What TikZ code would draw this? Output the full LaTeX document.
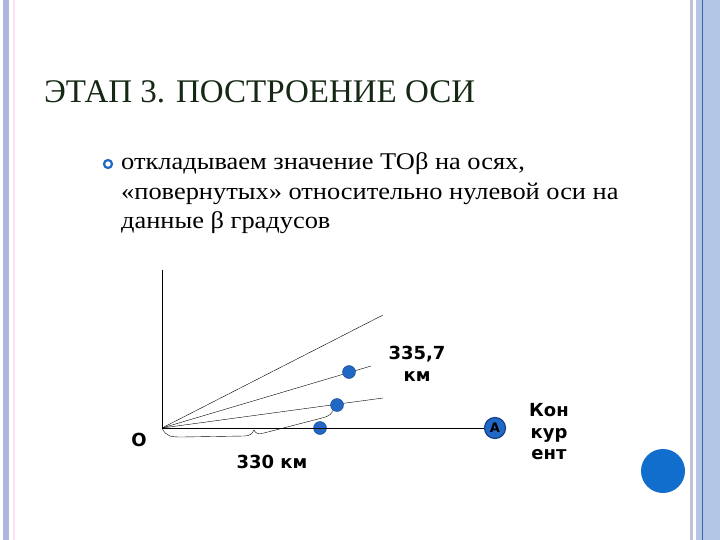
\documentclass[tikz,border=0pt]{standalone}
\usepackage{fontspec}
\setmainfont{Liberation Serif}
\newfontfamily\labelfont{DejaVu Sans}
\newfontfamily\bodyfont[FakeStretch=1.1]{Liberation Serif}
\usetikzlibrary{positioning}

\definecolor{leftband}{RGB}{172,182,222}
\definecolor{pinkline}{RGB}{250,225,245}
\definecolor{grayline}{RGB}{190,196,212}
\definecolor{rightband}{RGB}{180,198,230}
\definecolor{darkline}{RGB}{60,100,170}
\definecolor{titlegreen}{RGB}{20,40,20}
\definecolor{dotblue}{RGB}{32,104,196}
\definecolor{dotedge}{RGB}{22,66,140}
\definecolor{bigblue}{RGB}{18,110,204}

\begin{document}
\begin{tikzpicture}[x=1pt, y=-1pt,
    dot/.style={circle, fill=dotblue, draw=dotedge, inner sep=0pt, minimum size=13pt},
    lbl/.style={font=\labelfont\bfseries\fontsize{18}{21.5}\selectfont, align=center, inner sep=0pt}]
    \useasboundingbox (0,0) rectangle (720,540);

    % cornice della pagina
    \fill[leftband] (2.5,0) rectangle (8.5,540);
    \draw[pinkline, line width=1.5pt] (14,0) -- (14,540);
    \draw[grayline, line width=3pt] (691.5,0) -- (691.5,540);
    \fill[rightband] (696,0) rectangle (720,540);
    \draw[darkline, line width=1pt] (702.2,0) -- (702.2,540);

    % titolo e testo
    \node[anchor=base west, inner sep=0pt, text=titlegreen,
          font=\fontsize{33}{38}\selectfont] (title) at (44,103) {ЭТАП 3. ПОСТРОЕНИЕ ОСИ};
    \draw[dotblue, line width=2.2pt, fill=white] (108,164) circle (4);
    \node[anchor=base west, inner sep=0pt, align=left,
          font=\bodyfont\fontsize{24}{29.5}\selectfont] (body) at (121,229)
        {откладываем значение ТОβ на осях,\\
         «повернутых» относительно нулевой оси на\\
         данные β градусов};

    % assi
    \coordinate (O) at (162,428);
    \coordinate (top) at (162,270);
    \coordinate (r1) at (383,315);
    \coordinate (r2) at (371,366);
    \coordinate (r3) at (383,398);
    \draw (O) -- (top);
    \draw (O) -- (r1);
    \draw (O) -- (r2);
    \draw (O) -- (r3);

    % punti
    \node[dot] (p1) at (349,372) {};
    \node[dot] (p2) at (337,405) {};
    \node[dot] (p3) at (320,428) {};
    \node[dot, minimum size=21pt, line width=1.2pt, font=\labelfont\bfseries\fontsize{13}{13}\selectfont] (A) at (495,428) {A};
    \draw (O) -- (A);

    % graffa
    \draw (O) .. controls (166,437) and (172,437) .. (182,437)
          -- (244,436) .. controls (250,436) and (252,434) .. (254,430)
          .. controls (256,434) and (258,434) .. (264,433)
          -- (322,418) .. controls (330,416) and (333,413) .. (p2.south west);

    % etichette
    \node[lbl] (lblO) at (139,440) {O};
    \node[lbl] (lbl330) at (272,462) {330 км};
    \node[lbl] (lbl335) at (417,364) {335,7\\км};
    \node[lbl] (lblkon) at (549,432) {Кон\\кур\\ент};

    \fill[bigblue] (663,471) circle (22);
\end{tikzpicture}
\end{document}
